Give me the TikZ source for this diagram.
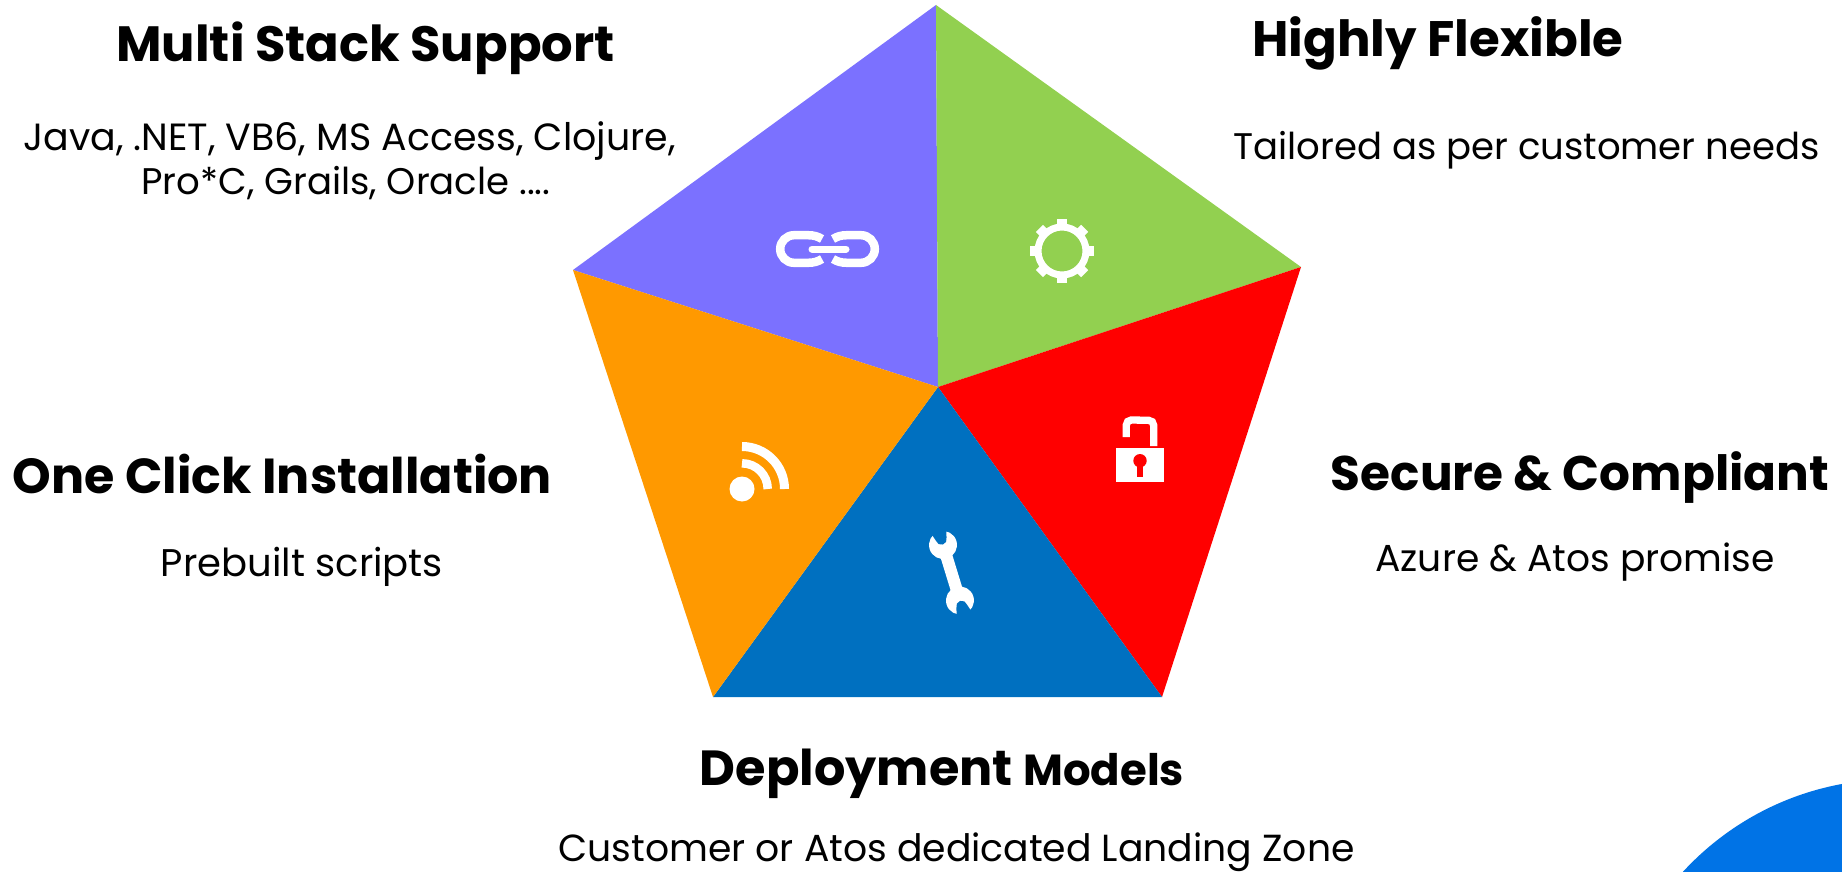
\documentclass[tikz,border=0pt]{standalone}
\usepackage{fontspec}
\usepackage{graphicx}
\setmainfont{Poppins}
\definecolor{cpurple}{HTML}{7B71FF}
\definecolor{cgreen}{HTML}{92D050}
\definecolor{corange}{HTML}{FF9900}
\definecolor{cred}{HTML}{FF0000}
\definecolor{cblue}{HTML}{0070C0}
\definecolor{ccircle}{HTML}{0073E6}
\newcommand{\fitw}[2]{\resizebox{#1pt}{!}{#2}}
\tikzset{
  lbl/.style={anchor=base,inner sep=0pt,outer sep=0pt,text=black},
  ico/.style={draw=white,line cap=butt,fill=none}
}
\begin{document}
\begin{tikzpicture}[x=1pt,y=-1pt]
\useasboundingbox (0,0) rectangle (1842,872);
\fill[white] (0,0) rectangle (1842,872);
% circle in the corner
\begin{scope}
\clip (0,0) rectangle (1842,872);
\fill[ccircle] (1893.8,1065.9) circle[radius=286.6pt];
\end{scope}
% pentagon
\coordinate (C) at (938,387);
\coordinate (T) at (936,5);
\coordinate (R) at (1301,267);
\coordinate (BR) at (1162,697);
\coordinate (BL) at (713,697);
\coordinate (L) at (573,270);
\fill[cpurple] (C)--(L)--(T)--cycle;
\fill[cgreen] (C)--(T)--(R)--cycle;
\fill[cred] (C)--(R)--(BR)--cycle;
\fill[cblue] (C)--(BR)--(BL)--cycle;
\fill[corange] (C)--(BL)--(L)--cycle;
% link icon
\draw[ico,line width=8.5pt] (822,239) .. controls (818,236.5) and (814,235.2) .. (808,235.2) -- (794,235.2) arc[start angle=90,end angle=270,radius=13.8pt] -- (808,262.8) .. controls (814,262.8) and (818,261.5) .. (822,259);
\draw[ico,line width=8.5pt] (833,239) .. controls (837,236.5) and (841,235.2) .. (847,235.2) -- (861,235.2) arc[start angle=90,end angle=-90,radius=13.8pt] -- (847,262.8) .. controls (841,262.8) and (837,261.5) .. (833,259);
\draw[ico,line width=7pt,line cap=round] (812,249) -- (846,249);
% gear icon
\draw[ico,line width=7pt] (1062,251) circle[radius=24pt];
\foreach \a in {0,45,...,315}{
  \fill[white,shift={(1062,251)},rotate=\a] (25,-5) rectangle (32,5);
}
% rss icon
\fill[white] (742,489) circle[radius=12.5pt];
\draw[ico,line width=9pt] (742,446.5) arc[start angle=90,end angle=0,radius=42.5pt];
\draw[ico,line width=8.5pt] (742,463.3) arc[start angle=90,end angle=0,radius=25.7pt];
% lock icon
\fill[white] (1116,448) rectangle (1164,482);
\draw[ico,line width=7.3pt] (1126.3,437) -- (1126.3,425) arc[start angle=180,end angle=90,radius=5pt] -- (1148.7,420.3) arc[start angle=90,end angle=0,radius=5pt] -- (1153.7,446);
\fill[cred] (1140,460.7) circle[radius=6.7pt];
\fill[cred] (1137,460) rectangle (1143,476.7);
% wrench icon
\begin{scope}[shift={(943,545)},rotate=17]
  \fill[white] (0,0) circle[radius=14pt];
  \fill[white] (-6,5) rectangle (6,56);
  \fill[white] (0,58) circle[radius=14pt];
  \fill[cblue] (-9,-18) -- (9,-18) -- (5.5,-6) arc[start angle=0,end angle=-180,radius=5.5pt] -- cycle;
  \fill[cblue] (-9,76) -- (9,76) -- (5.5,64) arc[start angle=0,end angle=180,radius=5.5pt] -- cycle;
\end{scope}
% texts
\node[lbl] (t1) at (365.5,61.5) {\fitw{498}{\bfseries Multi Stack Support}};
\node[lbl] (t1a) at (349.5,150) {\fitw{652}{Java, .NET, VB6, MS Access, Clojure,}};
\node[lbl] (t1b) at (346,194.5) {\fitw{409}{Pro*C, Grails, Oracle ....}};
\node[lbl] (t2) at (1438,57) {\fitw{371}{\bfseries Highly Flexible}};
\node[lbl] (t2a) at (1526.5,160) {\fitw{586}{Tailored as per customer needs}};
\node[lbl] (t3) at (282.5,493.5) {\fitw{539}{\bfseries One Click Installation}};
\node[lbl] (t3a) at (302,576.5) {\fitw{282}{Prebuilt scripts}};
\node[lbl] (t4) at (1580,490.5) {\fitw{498}{\bfseries Secure \& Compliant}};
\node[lbl] (t4a) at (1575,571.5) {\fitw{399}{Azure \& Atos promise}};
\node[lbl] (t5) at (942,785) {\fitw{484}{\bfseries Deployment {\fontsize{8.8}{10}\selectfont Models}}};
\node[lbl] (t5a) at (956.5,861.5) {\fitw{796}{Customer or Atos dedicated Landing Zone}};
\end{tikzpicture}
\end{document}
